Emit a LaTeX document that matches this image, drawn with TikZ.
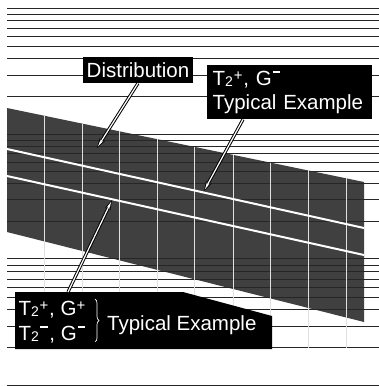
\documentclass[tikz,border=0pt]{standalone}
\usepackage{fontspec}
\setmainfont{Liberation Sans}
\usetikzlibrary{arrows.meta, positioning, decorations.pathreplacing, calc}
\newcommand{\lowTwo}{\raisebox{-1.2pt}{\fontsize{14}{14}\selectfont 2}\hspace{0.8pt}}
\newcommand{\hiPlus}{\raisebox{4.8pt}{\fontsize{15}{15}\selectfont +}\hspace{0.8pt}}
\newcommand{\hiMinus}{\hspace{0.8pt}\raisebox{12.5pt}{\rule{7.5pt}{1.3pt}}\hspace{1.5pt}}
\tikzset{
    tagBox/.style={fill=black, text=white, inner sep=0pt, font=\fontsize{20.5}{24.4}\selectfont},
    tagText/.style={text=white, inner sep=0pt, font=\fontsize{20.5}{24.4}\selectfont},
    levelLine/.style={line width=0.9pt, black!85},
    cellLine/.style={line width=1pt, black!12},
    leader/.style={line width=3.2pt, black, -{Stealth[length=10pt,width=6pt]},
        postaction={draw=white, line width=1.2pt, shorten >=1.8pt, -{Stealth[length=7pt,width=2.8pt]}}}
}

\begin{document}
\begin{tikzpicture}[x=1pt, y=-1pt]
    \useasboundingbox (0,0) rectangle (379,386);
    % --- band ---
    \coordinate (bandTL) at (7,108); \coordinate (bandTR) at (364,182);
    \coordinate (bandBR) at (364,322); \coordinate (bandBL) at (7,232);
    \fill[black!75] (bandTL)--(bandTR)--(bandBR)--(bandBL)--cycle;
    % --- levels ---
    \foreach \y in {8.3,14.3,20.7,28.3,36,46,58.3,75,96.7,
                    134,140,146,153.3,162.7,171.7,183.3,199.3,221.7,
                    258,265,271.7,279.3,287.3,297.7,309.3,326,347.7,385}
        \draw[levelLine] (7,\y)--(379,\y);
    % --- cells ---
    \foreach \x in {44,82,119,157,194,233,270,308,346}
        \draw[cellLine] (\x,{108+0.2073*(\x-7)})--(\x,347.7);
    % --- white stripes ---
    \draw[white,line width=2pt] (7,149)--(364,228);
    \draw[white,line width=2pt] (7,176)--(364,255);
    % --- labels ---
    \node[tagBox, minimum width=110pt, minimum height=26pt] (dist) at (138,70) {Distribution};
    \node[tagBox, anchor=north west, minimum height=54pt, text width=154pt, inner xsep=5.5pt,
          align=left] (upperTag) at (207,65) {T\lowTwo\hiPlus, G\hiMinus\\Typical Example};
    \fill[black] (15,292)--(183,292)--(272,316)--(272,349)--(15,349)--cycle;
    \coordinate (lowerFoot) at (68,292);
    \node[tagText, anchor=base west] (plusPair) at (18.3,315.7) {T\lowTwo\hiPlus, G\hiPlus};
    \node[tagText, anchor=base west] (minusPair) at (18.3,340) {T\lowTwo\hiMinus, G\hiMinus};
    \coordinate (braceTop) at (95,299); \coordinate (braceBot) at (95,342);
    \draw[white, line width=0.7pt, decorate, decoration={brace, amplitude=4pt}] (braceTop)--(braceBot);
    \node[tagText, anchor=base west] (lowerTag) at (107,330) {Typical Example};
    % --- leaders ---
    \coordinate (distTip) at (97,148);
    \coordinate (upperTip) at (204,191);
    \coordinate (lowerTip) at (112,200);
    \draw[leader] (dist.south) -- (distTip);
    \draw[leader] ([xshift=36pt]upperTag.south west) -- (upperTip);
    \draw[leader] (lowerFoot) -- (lowerTip);
\end{tikzpicture}
\end{document}
